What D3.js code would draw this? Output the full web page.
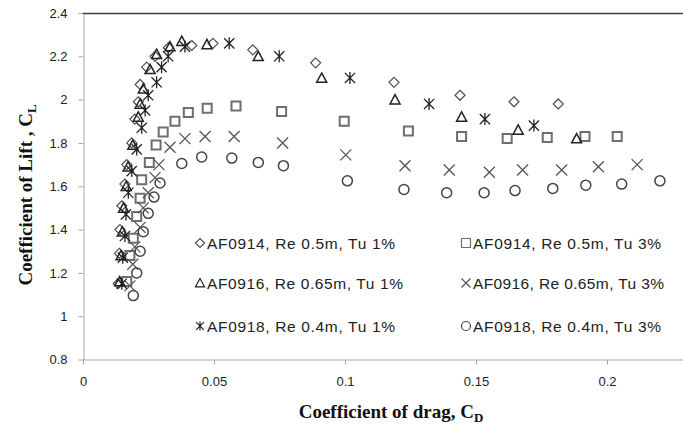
<!DOCTYPE html>
<html>
<head>
<meta charset="utf-8">
<script src="https://cdn.jsdelivr.net/npm/d3@7"></script>
<style>
  body { margin: 0; background: #fff; }
  .tick text { font-family: "Liberation Sans", Arial, sans-serif; font-size: 13px; fill: #222; }
  .axis path, .axis line { stroke: #a6a6a6; }
</style>
</head>
<body>
<div id="chart-area"></div>
<script>
// Series data: [CD, CL] pairs
var af0914Tu1 = [[0.0134,1.15],[0.0139,1.29],[0.0141,1.40],[0.0148,1.51],[0.016,1.61],[0.0167,1.70],[0.0186,1.80],[0.0198,1.91],[0.0211,1.99],[0.0218,2.07],[0.0243,2.15],[0.0275,2.20],[0.0326,2.24],[0.0415,2.25],[0.0496,2.26],[0.0648,2.23],[0.0888,2.17],[0.1187,2.08],[0.1439,2.02],[0.1645,1.99],[0.1814,1.98]];
var af0914Tu3 = [[0.0167,1.16],[0.0179,1.28],[0.0192,1.36],[0.0205,1.46],[0.0218,1.545],[0.0224,1.63],[0.0253,1.71],[0.0279,1.79],[0.0306,1.85],[0.0351,1.90],[0.0402,1.94],[0.0474,1.96],[0.0584,1.97],[0.0758,1.945],[0.0997,1.90],[0.1242,1.855],[0.1445,1.83],[0.1619,1.82],[0.1772,1.825],[0.1916,1.83],[0.2039,1.83]];
var af0916Tu1 = [[0.0140,1.16],[0.0145,1.28],[0.0150,1.39],[0.0155,1.50],[0.0165,1.60],[0.0172,1.69],[0.0190,1.79],[0.0211,1.92],[0.0218,1.98],[0.0230,2.05],[0.0256,2.14],[0.0281,2.21],[0.0332,2.245],[0.0377,2.27],[0.0473,2.255],[0.0669,2.20],[0.0911,2.10],[0.1191,2.00],[0.1445,1.92],[0.1661,1.86],[0.1884,1.82]];
var af0916Tu3 = [[0.0179,1.14],[0.0190,1.24],[0.0198,1.32],[0.0218,1.41],[0.023,1.50],[0.0249,1.57],[0.0275,1.64],[0.0290,1.70],[0.0332,1.78],[0.0389,1.82],[0.0466,1.83],[0.0577,1.83],[0.0762,1.80],[0.1003,1.745],[0.1229,1.695],[0.1398,1.675],[0.1551,1.665],[0.1678,1.675],[0.1827,1.675],[0.1967,1.69],[0.2115,1.70]];
var af0918Tu1 = [[0.0148,1.15],[0.0152,1.27],[0.016,1.37],[0.0164,1.47],[0.0173,1.57],[0.0186,1.67],[0.0205,1.77],[0.0224,1.87],[0.0237,1.95],[0.0249,2.02],[0.0281,2.08],[0.0300,2.15],[0.0325,2.20],[0.0389,2.245],[0.0558,2.26],[0.0749,2.20],[0.1019,2.10],[0.1321,1.98],[0.1534,1.91],[0.1721,1.88]];
var af0918Tu3 = [[0.0192,1.095],[0.0205,1.20],[0.0218,1.30],[0.023,1.39],[0.0249,1.475],[0.0271,1.55],[0.0294,1.615],[0.0377,1.705],[0.0453,1.735],[0.0568,1.73],[0.0669,1.71],[0.0765,1.695],[0.1009,1.625],[0.1225,1.585],[0.1388,1.57],[0.1531,1.57],[0.1649,1.58],[0.1793,1.59],[0.1919,1.605],[0.2056,1.61],[0.2202,1.625]];

var seriesNames = ["AF0914, Re 0.5m, Tu 1%", "AF0914, Re 0.5m, Tu 3%",
                   "AF0916, Re 0.65m, Tu 1%", "AF0916, Re 0.65m, Tu 3%",
                   "AF0918, Re 0.4m, Tu 1%", "AF0918, Re 0.4m, Tu 3%"];
var xTicks = [0, 0.05, 0.1, 0.15, 0.2];
var yTicks = [0.8, 1, 1.2, 1.4, 1.6, 1.8, 2, 2.2, 2.4];

var width = 683, height = 426;

var svg = d3.select("#chart-area").append("svg")
    .attr("width", width)
    .attr("height", height);

// Scales
var x = d3.scaleLinear().domain([0, 0.25]).range([83, 738]);
var y = d3.scaleLinear().domain([0.8, 2.4]).range([359.5, 13]);

// Axes
var xAxis = svg.append("g")
    .attr("class", "x axis")
    .attr("transform", "translate(0,359.5)")
    .call(d3.axisBottom(x).tickValues(xTicks).tickSize(5).tickSizeOuter(0)
        .tickFormat(function(d){ return String(d); }));
xAxis.selectAll(".tick text").attr("dy", "1.4em");

var yAxis = svg.append("g")
    .attr("class", "y axis")
    .attr("transform", "translate(83.5,0)")
    .call(d3.axisLeft(y).tickValues(yTicks).tickSize(5).tickSizeOuter(0)
        .tickFormat(function(d){ return String(d); }));
yAxis.selectAll(".tick text").attr("x", -16);

// top edge
svg.append("line")
    .attr("x1", 83).attr("x2", width)
    .attr("y1", 13.5).attr("y2", 13.5)
    .attr("stroke", "#404040")
    .attr("stroke-width", 1.5);

// Marker shapes
function diamond(s) { return "M0," + (-s) + "L" + s + ",0L0," + s + "L" + (-s) + ",0Z"; }
function square(s) { return "M" + (-s) + "," + (-s) + "h" + 2*s + "v" + 2*s + "h" + (-2*s) + "Z"; }
function triangle(s) { return "M0," + (-s) + "L" + s + "," + s*0.85 + "L" + (-s) + "," + s*0.85 + "Z"; }
function cross(s) { return "M" + (-s) + "," + (-s) + "L" + s + "," + s + "M" + s + "," + (-s) + "L" + (-s) + "," + s; }
function star(s) { return cross(s * 0.85) + "M0," + (-s) + "L0," + s; }
function circle(s) { return "M" + s + ",0A" + s + "," + s + " 0 1,1 " + (-s) + ",0A" + s + "," + s + " 0 1,1 " + s + ",0Z"; }

var styles = [
    { data: af0914Tu1, shape: diamond,  size: 5,   stroke: "#505050", sw: 1.2 },
    { data: af0914Tu3, shape: square,   size: 4.5, stroke: "#6e6e6e", sw: 2 },
    { data: af0916Tu1, shape: triangle, size: 5,   stroke: "#222",    sw: 1.5 },
    { data: af0916Tu3, shape: cross,    size: 5.5, stroke: "#555",    sw: 1.3 },
    { data: af0918Tu1, shape: star,     size: 6,   stroke: "#222",    sw: 1.3 },
    { data: af0918Tu3, shape: circle,   size: 5,   stroke: "#444",    sw: 1.5 }
];

styles.forEach(function(st){
    svg.append("g").selectAll("path")
        .data(st.data)
        .enter().append("path")
        .attr("transform", function(d){ return "translate(" + x(d[0]) + "," + y(d[1]) + ")"; })
        .attr("d", st.shape(st.size))
        .attr("fill", "none")
        .attr("stroke", st.stroke)
        .attr("stroke-width", st.sw);
});

// Legend
var legX = [200, 466], legY = [243, 283, 326];
var legW = [188, 188, 196, 191, 188, 188];
styles.forEach(function(st, i){
    var lx = legX[i % 2], ly = legY[Math.floor(i / 2)];
    svg.append("path")
        .attr("transform", "translate(" + lx + "," + ly + ")")
        .attr("d", st.shape(4.5))
        .attr("fill", "none")
        .attr("stroke", st.stroke)
        .attr("stroke-width", 1.2);
    svg.append("text")
        .attr("x", lx + 7)
        .attr("y", ly)
        .attr("dy", "0.36em")
        .attr("font-family", "'Liberation Sans', Arial, sans-serif")
        .attr("font-size", "15.5px")
        .attr("textLength", legW[i])
        .attr("lengthAdjust", "spacing")
        .attr("fill", "#222")
        .text(seriesNames[i]);
});

// X-Axis label
var xLabel = svg.append("text")
    .attr("x", 391)
    .attr("y", 418)
    .attr("text-anchor", "middle")
    .attr("font-family", "'Liberation Serif', 'Times New Roman', serif")
    .attr("font-weight", "bold")
    .attr("font-size", "19px")
    .attr("fill", "#111");
xLabel.append("tspan").text("Coefficient of drag, C");
xLabel.append("tspan").attr("dy", 4).attr("font-size", "13px").text("D");

// Y-Axis label
var yLabel = svg.append("text")
    .attr("transform", "translate(32,195) rotate(-90)")
    .attr("text-anchor", "middle")
    .attr("font-family", "'Liberation Serif', 'Times New Roman', serif")
    .attr("font-weight", "bold")
    .attr("font-size", "19px")
    .attr("fill", "#111");
yLabel.append("tspan").text("Coefficient of Lift , C");
yLabel.append("tspan").attr("dy", 4).attr("font-size", "13px").text("L");
</script>
</body>
</html>
